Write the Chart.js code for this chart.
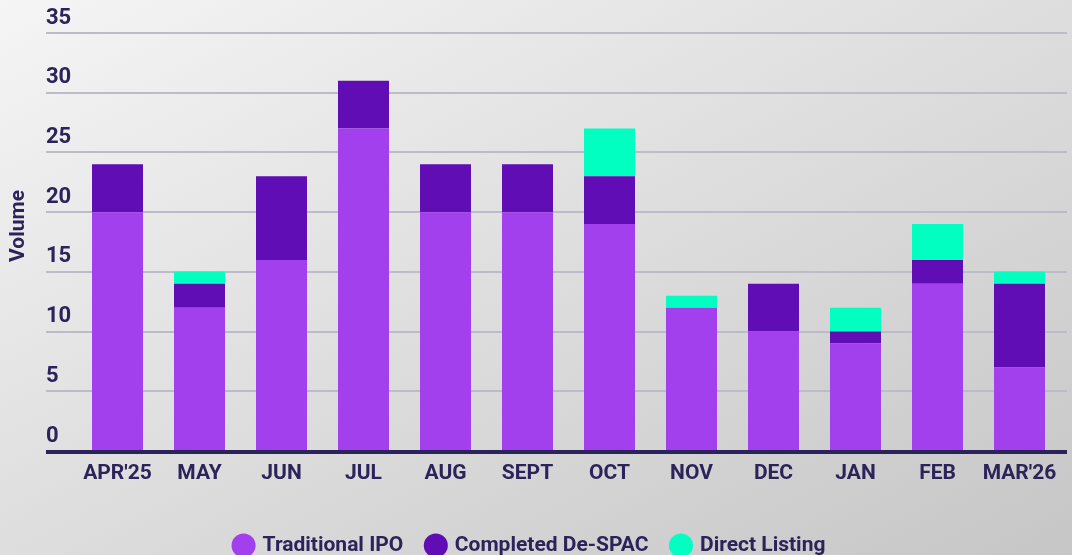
<!DOCTYPE html>
<html><head><meta charset="utf-8">
<script src="https://cdn.jsdelivr.net/npm/chart.js@4/dist/chart.umd.min.js"></script>
<style>
html,body{margin:0;padding:0;width:1072px;height:555px;overflow:hidden;background:linear-gradient(to bottom right,#f5f5f5,#c6c6c6);}
#wrap{position:absolute;left:0;top:0;width:1072px;height:566px;}
</style></head><body>
<div id="wrap"><canvas id="c"></canvas></div>
<script>
const categories = ["APR'25","MAY","JUN","JUL","AUG","SEPT","OCT","NOV","DEC","JAN","FEB","MAR'26"];
const traditionalIPO = [20,12,16,27,20,20,19,12,10,9,14,7];
const completedDeSPAC = [4,2,7,4,4,4,4,0,4,1,2,7];
const directListing = [0,1,0,0,0,0,4,1,0,2,3,1];
const yTicks = [0,5,10,15,20,25,30,35];
const seriesNames = ["Traditional IPO","Completed De-SPAC","Direct Listing"];
const yTitle = "Volume";

const NAVY = '#2b2359';
const FONT = "Roboto,'DejaVu Sans Condensed',sans-serif";

const decor = {
  id: 'decor',
  beforeDatasetsDraw(chart) {
    const y = chart.scales.y, ctx = chart.ctx, a = chart.chartArea;
    ctx.save();
    ctx.strokeStyle = '#bdbac9';
    ctx.lineWidth = 2;
    y.ticks.forEach(t => {
      if (t.value === 0) return;
      const py = Math.round(y.getPixelForValue(t.value));
      ctx.beginPath();
      ctx.moveTo(a.left - 30.5, py);
      ctx.lineTo(a.right + 6.5, py);
      ctx.stroke();
    });
    ctx.restore();
  },
  afterDatasetsDraw(chart) {
    const y = chart.scales.y, ctx = chart.ctx, a = chart.chartArea;
    const p0 = Math.round(y.getPixelForValue(0));
    ctx.save();
    ctx.fillStyle = NAVY;
    ctx.fillRect(a.left - 30.5, p0 - 1, (a.right + 6.5) - (a.left - 30.5), 4);
    ctx.translate(19, (a.top + a.bottom) / 2 - 16);
    ctx.rotate(-Math.PI / 2);
    ctx.font = "bold 21px " + FONT;
    ctx.textAlign = 'center';
    ctx.textBaseline = 'middle';
    ctx.fillText(yTitle, 0, 0);
    ctx.restore();
  }
};

new Chart(document.getElementById('c'), {
  type: 'bar',
  data: {
    labels: categories,
    datasets: [
      { label: seriesNames[0], data: traditionalIPO, backgroundColor: '#a240ee', borderWidth: 0 },
      { label: seriesNames[1], data: completedDeSPAC, backgroundColor: '#610db5', borderWidth: 0 },
      { label: seriesNames[2], data: directListing, backgroundColor: '#00ffc0', borderWidth: 0 }
    ]
  },
  options: {
    responsive: true,
    maintainAspectRatio: false,
    animation: false,
    layout: { padding: { top: 33, right: 11.5, left: 0, bottom: 0 } },
    datasets: { bar: { categoryPercentage: 1, barPercentage: 0.622 } },
    scales: {
      x: {
        stacked: true,
        grid: { display: false },
        border: { display: false },
        ticks: { color: NAVY, font: { family: FONT, size: 21, weight: 'bold' }, padding: 2, maxRotation: 0, autoSkip: false },
        afterFit: s => { s.height = 60; }
      },
      y: {
        stacked: true,
        min: 0, max: 35,
        grid: { display: false },
        border: { display: false },
        afterBuildTicks: s => { s.ticks = yTicks.map(v => ({ value: v })); },
        ticks: { mirror: true, padding: -30.5, labelOffset: -15, color: NAVY, font: { family: FONT, size: 22, weight: 'bold' } },
        afterFit: s => { s.width = 76.5; }
      }
    },
    plugins: {
      legend: {
        position: 'bottom',
        labels: {
          usePointStyle: true, pointStyle: 'circle', boxWidth: 17, boxHeight: 17,
          padding: 24, color: NAVY, font: { family: FONT, size: 21, weight: 'bold' }
        }
      },
      tooltip: { enabled: false }
    }
  },
  plugins: [decor]
});
</script>
</body></html>
